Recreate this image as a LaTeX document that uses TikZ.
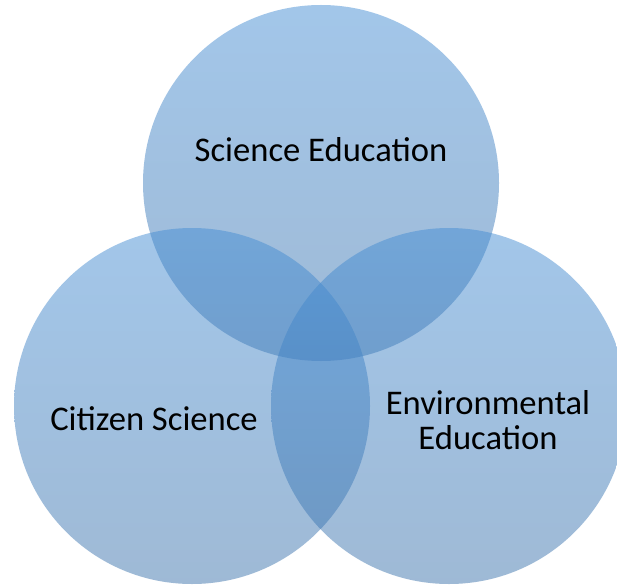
\documentclass[tikz,border=0pt]{standalone}
\usepackage{fontspec}
\setmainfont{Carlito}
\definecolor{ctop}{RGB}{70,142,212}
\definecolor{cbot}{RGB}{62,116,172}
\begin{document}
\begin{tikzpicture}[x=1pt,y=-1pt,
  venn/.style={circle, minimum size=356pt, inner sep=0pt, draw=none,
    top color=ctop, bottom color=cbot, fill opacity=0.5},
  lbl/.style={font=\fontsize{34.6}{35}\selectfont, text=black, align=center, inner sep=0pt}]
\useasboundingbox (0,0) rectangle (617,585);
\node[venn] (sci) at (321,183) {};
\node[venn] (cit) at (192,406) {};
\node[venn] (env) at (449,406) {};
\node[lbl] (tsci) at (321,150) {Science Education};
\node[lbl] (tcit) at (154,419) {Citizen Science};
\node[lbl] (tenv) at (488,420) {Environmental\\Education};
\end{tikzpicture}
\end{document}
